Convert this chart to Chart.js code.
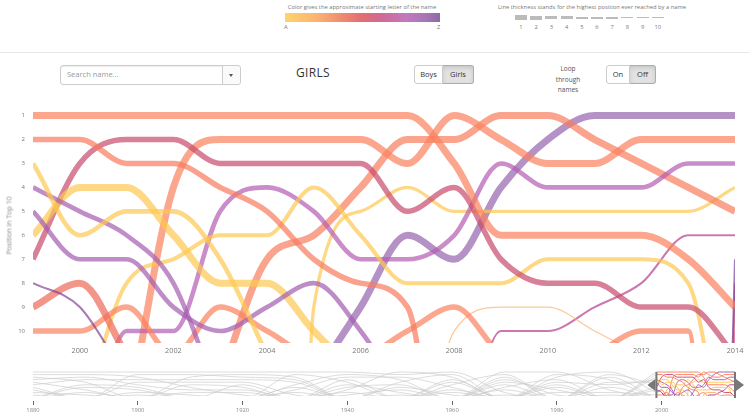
<!DOCTYPE html>
<html>
<head>
<meta charset="utf-8">
<script src="https://cdn.jsdelivr.net/npm/chart.js"></script>
<style>
  html, body { margin: 0; padding: 0; background: #fff; }
  body { width: 750px; height: 418px; position: relative; overflow: hidden; font-family: "Open Sans", sans-serif; color: #777; }
  .abs { position: absolute; }
  .note { font-size: 5.8px; color: #777; text-align: center; white-space: nowrap; }
  .sep { left: 0; top: 52px; width: 750px; height: 1px; background: #e8e8e8; }
  .search { left: 60px; top: 65px; width: 179px; height: 18px; border: 1px solid #ccc; border-radius: 3px; box-shadow: inset 0 1px 1px rgba(0,0,0,.075); }
  .search .ph { position: absolute; left: 6px; top: 3px; font-size: 7.5px; color: #999; }
  .search .dd { position: absolute; right: 0; top: 0; width: 17px; height: 18px; border-left: 1px solid #ccc; background: #fafafa; border-radius: 0 3px 3px 0; }
  .search .dd i { position: absolute; left: 6px; top: 8px; width: 0; height: 0; border-left: 2.5px solid transparent; border-right: 2.5px solid transparent; border-top: 3px solid #555; }
  .title { left: 263px; top: 64px; width: 100px; text-align: center; font-size: 12px; color: #333; letter-spacing: 0.3px; }
  .grp { display: flex; }
  .btn { box-sizing: border-box; height: 19px; line-height: 17px; font-size: 7.5px; color: #333; background: #fff; border: 1px solid #ccc; text-align: center; }
  .btn:first-child { border-radius: 3px 0 0 3px; }
  .btn:last-child { border-radius: 0 3px 3px 0; border-left: none; }
  .btn.on { background: #e2e2e2; box-shadow: inset 0 2px 4px rgba(0,0,0,.12); border-color: #adadad; }
  .loop { left: 538px; top: 64px; width: 60px; text-align: center; font-size: 6.5px; line-height: 10.5px; color: #555; }
  .tick { font-size: 5.8px; color: #777; }
  .ytitle { left: -31px; top: 221px; width: 80px; height: 9px; line-height: 9px; text-align: center; font-size: 7px; color: #8a8a8a; transform: rotate(-90deg); white-space: nowrap; z-index: 2; }
</style>
</head>
<body>

<div class="abs note" style="left:262px;top:3px;width:200px">Color gives the approximate starting letter of the name</div>
<div class="abs" style="left:285px;top:13px;width:155px;height:9px;background:linear-gradient(to right,#fdd46c 0%,#fbb46f 20%,#f0876f 38%,#e26d73 50%,#d16a93 62%,#c378be 78%,#a877b8 90%,#8e6aa6 100%)"></div>
<div class="abs tick" style="left:284px;top:23px">A</div>
<div class="abs tick" style="left:437px;top:23px">Z</div>

<div class="abs note" style="left:492px;top:3px;width:200px">Line thickness stands for the highest position ever reached by a name</div>
<div id="thick"></div>

<div class="abs sep"></div>

<div class="abs search"><span class="ph">Search name...</span><span class="dd"><i></i></span></div>
<div class="abs title">GIRLS</div>
<div class="abs grp" style="left:414px;top:65px">
  <div class="btn" style="width:29px">Boys</div>
  <div class="btn on" style="width:31px">Girls</div>
</div>
<div class="abs loop">Loop<br>through<br>names</div>
<div class="abs grp" style="left:606px;top:65px">
  <div class="btn" style="width:24px">On</div>
  <div class="btn on" style="width:26px">Off</div>
</div>

<div class="abs" style="left:0;top:92px;width:750px;height:270px"><canvas id="main"></canvas></div>
<div class="abs ytitle">Position in Top 10</div>
<div class="abs" style="left:0;top:362px;width:750px;height:56px"><canvas id="mini"></canvas></div>

<script>
// years shown in the main chart
const years = [1999,2000,2001,2002,2003,2004,2005,2006,2007,2008,2009,2010,2011,2012,2013,2014];
const xTicks = [2000,2002,2004,2006,2008,2010,2012,2014];
const yTicks = [1,2,3,4,5,6,7,8,9,10];

// rank per year (null = not in the list, values > 10 fall below the chart)
const emily     = [1,1,1,1,1,1,1,1,1,3,6,6,6,6,7,9];
const hannah    = [2,2,3,3,4,5,7,8,9,24,null,null,null,null,null,null];
const alexis    = [3,6,5,5,7,11,null,null,null,null,null,null,null,null,null,null];
const sarah     = [4,5,6,8,13,null,null,null,null,null,null,null,null,null,null,null];
const samantha  = [5,7,7,9,10,9,8,10,13,null,null,null,null,null,null,null];
const ashley    = [6,4,4,6,8,8,10,12,null,null,null,null,null,null,null,null];
const madison   = [7,3,2,2,3,3,3,3,5,4,7,8,8,9,9,11];
const taylor    = [8,9,12,null,null,null,null,null,null,null,null,null,null,null,null,null];
const jessica   = [9,8,11,null,null,null,null,null,null,null,null,null,null,null,null,null];
const elizabeth = [10,10,9,11,9,10,11,11,10,9,11,12,11,10,10,60];
const abigail   = [null,14,8,7,6,6,4,6,8,8,8,7,7,7,8,19];
const olivia    = [null,17,10,10,5,4,5,7,7,6,3,4,4,4,3,3];
const emma      = [null,null,14,4,2,2,2,2,3,1,2,3,3,2,2,2];
const isabella  = [null,null,null,null,12,7,6,4,2,2,1,1,2,3,4,5];
const ava       = [null,null,null,null,null,120,9,5,4,5,5,5,5,5,5,4];
const sophia    = [null,null,null,null,null,null,12,9,6,7,4,2,1,1,1,1];
const chloe     = [null,null,null,null,null,null,null,null,20,10,9,9,10,11,null,null];
const mia       = [null,null,null,null,null,null,null,null,null,17,10,10,9,8,6,6];
const newA      = [null,null,null,null,null,null,null,null,null,null,null,null,null,null,80,7];
const newB      = [null,null,null,null,null,null,null,null,null,null,null,null,null,null,80,8];
const newC      = [null,null,null,null,null,null,null,null,null,null,null,null,null,null,80,10];

const names  = ['Emily','Hannah','Alexis','Sarah','Samantha','Ashley','Madison','Taylor','Jessica','Elizabeth',
                'Abigail','Olivia','Emma','Isabella','Ava','Sophia','Chloe','Mia','New 7','New 8','New 10'];
const series = [emily,hannah,alexis,sarah,samantha,ashley,madison,taylor,jessica,elizabeth,
                abigail,olivia,emma,isabella,ava,sophia,chloe,mia,newA,newB,newC];
// highest position ever reached (drives thickness)
const best   = [1,2,3,3,3,1,2,7,1,2,4,3,1,1,5,1,9,7,7,7,9];

// styling
const lineColors = {
  Emily:'250,128,92', Hannah:'248,122,92', Alexis:'254,200,80', Sarah:'165,92,178', Samantha:'162,92,176',
  Ashley:'254,200,80', Madison:'198,74,108', Taylor:'128,68,148', Jessica:'240,104,88', Elizabeth:'250,128,92',
  Abigail:'254,200,80', Olivia:'180,92,180', Emma:'250,128,92', Isabella:'248,124,92', Ava:'254,200,80',
  Sophia:'150,100,172', Chloe:'252,176,108', Mia:'182,62,142', 'New 7':'120,70,160', 'New 8':'212,70,100', 'New 10':'222,120,160'
};
const thickness = [7, 5.5, 4.6, 4, 3.3, 2.6, 2.1, 1.7, 1.3, 1];

// thickness legend
const thickWrap = document.getElementById('thick');
thickness.forEach((w, i) => {
  const bar = document.createElement('div');
  bar.className = 'abs';
  const h = Math.max(1, Math.round(w * 0.72));
  bar.style.cssText = 'left:' + (515 + i * 15.2) + 'px;top:' + (17.5 - h / 2) + 'px;width:12px;height:' + h + 'px;background:#bbb';
  thickWrap.appendChild(bar);
  const lab = document.createElement('div');
  lab.className = 'abs tick';
  lab.style.cssText = 'left:' + (509 + i * 15.2) + 'px;top:23px;width:24px;text-align:center';
  lab.textContent = String(i + 1);
  thickWrap.appendChild(lab);
});

Chart.defaults.font.family = '"Open Sans", sans-serif';

const mainSets = names.map((n, i) => ({
  label: n,
  data: series[i].map((v, j) => ({x: years[j], y: v})),
  borderColor: 'rgba(' + lineColors[n] + ',0.7)',
  borderWidth: thickness[best[i] - 1],
  cubicInterpolationMode: 'monotone',
  pointRadius: 0,
  fill: false
}));

new Chart(document.getElementById('main'), {
  type: 'line',
  data: { datasets: mainSets },
  options: {
    responsive: true, maintainAspectRatio: false, animation: false,
    layout: { autoPadding: false, padding: { top: 0, right: 15, left: 0, bottom: 0 } },
    plugins: { legend: { display: false }, tooltip: { enabled: false } },
    elements: { line: { capBezierPoints: false } },
    scales: {
      x: {
        type: 'linear', min: 1999, max: 2014,
        afterBuildTicks: s => { s.ticks = xTicks.map(v => ({value: v})); },
        afterFit: s => { s.height = 19; },
        grid: { display: false, drawTicks: false }, border: { display: false },
        ticks: { color: '#777', font: { size: 7.3 }, padding: 4, maxRotation: 0, autoSkip: false, callback: v => String(v) }
      },
      y: {
        reverse: true, min: 0.5, max: 10.5,
        afterBuildTicks: s => { s.ticks = yTicks.map(v => ({value: v})); },
        afterFit: s => { s.width = 33; },
        grid: { display: false, drawTicks: false }, border: { display: false },
        ticks: { color: '#777', font: { size: 6 }, padding: 8 }
      }
    }
  }
});

// overview strip: top 10 per decade, then the selected window
const miniYears = [1880,1890,1900,1910,1920,1930,1940,1950,1960,1970,1980,1990,1999];
const miniTop = [
  ['Mary','Anna','Emma','Elizabeth','Minnie','Margaret','Ida','Alice','Bertha','Sarah'],
  ['Mary','Anna','Elizabeth','Margaret','Emma','Florence','Ethel','Minnie','Clara','Bertha'],
  ['Mary','Helen','Anna','Margaret','Ruth','Elizabeth','Florence','Ethel','Marie','Lillian'],
  ['Mary','Helen','Dorothy','Margaret','Ruth','Mildred','Anna','Elizabeth','Frances','Marie'],
  ['Mary','Dorothy','Helen','Margaret','Ruth','Virginia','Mildred','Elizabeth','Frances','Anna'],
  ['Mary','Betty','Dorothy','Helen','Margaret','Barbara','Joan','Patricia','Doris','Ruth'],
  ['Mary','Barbara','Patricia','Judith','Betty','Carol','Nancy','Linda','Shirley','Sandra'],
  ['Linda','Mary','Patricia','Barbara','Susan','Nancy','Deborah','Sandra','Carol','Kathleen'],
  ['Mary','Susan','Linda','Karen','Donna','Lisa','Patricia','Debra','Cynthia','Deborah'],
  ['Jennifer','Lisa','Kimberly','Michelle','Amy','Angela','Melissa','Tammy','Mary','Tracy'],
  ['Jennifer','Amanda','Jessica','Melissa','Sarah','Heather','Nicole','Amy','Elizabeth','Michelle'],
  ['Jessica','Ashley','Brittany','Amanda','Samantha','Sarah','Stephanie','Jennifer','Elizabeth','Lauren'],
  ['Emily','Hannah','Alexis','Sarah','Samantha','Ashley','Madison','Taylor','Jessica','Elizabeth']
];
const miniTicks = [1880,1900,1920,1940,1960,1980,2000];
const brushRange = [1999, 2014];

const miniNames = [...new Set(miniTop.flat())];
const graySets = miniNames.map(n => ({
  data: miniYears.map((yr, k) => {
    const r = miniTop[k].indexOf(n);
    return {x: yr, y: r >= 0 ? r + 1 : 11.5};
  }),
  borderColor: '#cdcdcd', borderWidth: 0.7,
  cubicInterpolationMode: 'monotone', pointRadius: 0, fill: false,
  clip: { left: 0, top: 0, right: 0, bottom: -5 }
}));
const colorSets = names.map((n, i) => ({
  data: series[i].map((v, j) => ({x: years[j], y: v})),
  borderColor: 'rgba(' + lineColors[n] + ',0.95)', borderWidth: 1,
  cubicInterpolationMode: 'monotone', pointRadius: 0, fill: false,
  clip: { left: 0, top: 0, right: 0, bottom: -5 }
}));

const brush = {
  id: 'brush',
  afterDatasetsDraw(chart) {
    const {ctx, chartArea, scales} = chart;
    const top = chartArea.top + 1, bottom = chartArea.bottom - 3;
    const cy = (top + bottom) / 2;
    ctx.save();
    ctx.strokeStyle = '#777'; ctx.fillStyle = '#777'; ctx.lineWidth = 2;
    brushRange.forEach((yr, k) => {
      const x = scales.x.getPixelForValue(yr);
      ctx.beginPath(); ctx.moveTo(x, top); ctx.lineTo(x, bottom); ctx.stroke();
      const dir = k === 0 ? -1 : 1;
      ctx.beginPath();
      ctx.moveTo(x + dir, cy - 6); ctx.lineTo(x + dir, cy + 6); ctx.lineTo(x + dir * 9, cy);
      ctx.closePath(); ctx.fill();
    });
    ctx.restore();
  }
};

new Chart(document.getElementById('mini'), {
  type: 'line',
  data: { datasets: graySets.concat(colorSets) },
  plugins: [brush],
  options: {
    responsive: true, maintainAspectRatio: false, animation: false,
    layout: { autoPadding: false, padding: { top: 9, right: 15, left: 33, bottom: 0 } },
    plugins: { legend: { display: false }, tooltip: { enabled: false } },
    elements: { line: { capBezierPoints: false } },
    scales: {
      x: {
        type: 'linear', min: 1880, max: 2014,
        afterBuildTicks: s => { s.ticks = miniTicks.map(v => ({value: v})); },
        afterFit: s => { s.height = 17; },
        grid: { display: true, drawOnChartArea: false, drawTicks: true, tickLength: 4, color: '#666' },
        border: { display: false },
        ticks: { color: '#888', font: { size: 5.8 }, padding: 2, maxRotation: 0, autoSkip: false, callback: v => String(v) }
      },
      y: { display: false, reverse: true, min: 0.6, max: 12.35 }
    }
  }
});
</script>
</body>
</html>
